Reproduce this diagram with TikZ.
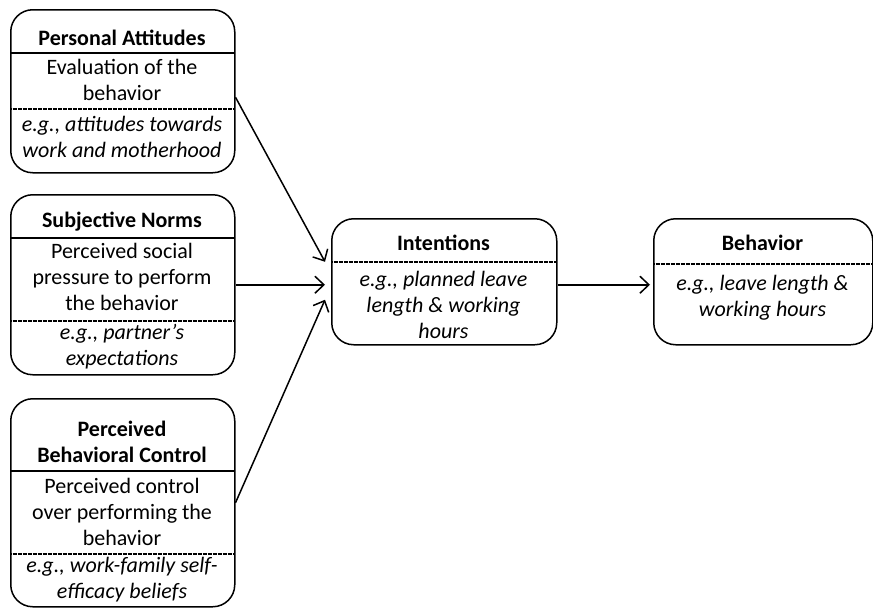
\documentclass[tikz,border=0pt]{standalone}
\usepackage{fontspec}
\setmainfont{Carlito}
\usetikzlibrary{arrows.meta,calc}
\tikzset{
  box/.style={draw, line width=1.5pt, rounded corners=22pt, anchor=north west, inner sep=0pt},
  sep/.style={line width=1.3pt},
  dsep/.style={line width=1.3pt, dash pattern=on 2pt off 0.5pt},
  txt/.style={align=center, inner sep=0pt, font=\fontsize{22}{26}\selectfont},
  ttl/.style={txt, font=\fontsize{22}{26}\selectfont\bfseries},
  itx/.style={txt, font=\fontsize{22}{26}\selectfont\itshape},
  arr/.style={line width=1.5pt, -{Straight Barb[length=9pt,width=17pt,line width=1.5pt]}}
}
\begin{document}
\begin{tikzpicture}[x=1pt,y=-1pt]
\useasboundingbox (0,0) rectangle (873,608);
% Box 1
\node[box, minimum width=224pt, minimum height=163pt] (pa) at (10,9) {};
\draw[sep] (10,53) -- (234,53);
\draw[dsep] (10,109) -- (234,109);
\node[ttl] (pa-t) at (122,38) {Personal Attitudes};
\node[txt] (pa-d) at (122,80) {Evaluation of the\\behavior};
\node[itx] (pa-e) at (122,137) {e.g., attitudes towards\\work and motherhood};
% Box 2
\node[box, minimum width=224pt, minimum height=180pt] (sn) at (10,194) {};
\draw[sep] (10,238) -- (234,238);
\draw[dsep] (10,321) -- (234,321);
\node[ttl] (sn-t) at (122,222) {Subjective Norms};
\node[txt] (sn-d) at (122,277) {Perceived social\\pressure to perform\\the behavior};
\node[itx] (sn-e) at (122,347) {e.g., partner’s\\expectations};
% Box 3
\node[box, minimum width=224pt, minimum height=208pt] (pbc) at (10,398) {};
\draw[sep] (10,471) -- (234,471);
\draw[dsep] (10,554) -- (234,554);
\node[ttl] (pbc-t) at (122,442) {Perceived\\Behavioral Control};
\node[txt] (pbc-d) at (122,512) {Perceived control\\over performing the\\behavior};
\node[itx] (pbc-e) at (122,580) {e.g., work-family self-\\efficacy beliefs};
% Intentions
\node[box, minimum width=225pt, minimum height=126pt] (int) at (331,218) {};
\draw[dsep] (331,262) -- (556,262);
\node[ttl] (int-t) at (443.5,243) {Intentions};
\node[itx] (int-e) at (443.5,305) {e.g., planned leave\\length \& working\\hours};
% Behavior
\node[box, minimum width=219pt, minimum height=126pt] (beh) at (653,218) {};
\draw[dsep] (653,264) -- (872,264);
\node[ttl] (beh-t) at (762.5,243) {Behavior};
\node[itx] (beh-e) at (762.5,298) {e.g., leave length \&\\working hours};
% Arrows
\draw[arr] ([yshift=-6pt]pa.east) -- ([xshift=-6pt,yshift=20pt]int.west);
\draw[arr] (sn.east) -- ([xshift=-6pt,yshift=-3pt]int.west);
\draw[arr] (pbc.east) -- ([xshift=-6pt,yshift=-18pt]int.west);
\draw[arr] ([yshift=-3pt]int.east) -- ([xshift=-3pt,yshift=-3pt]beh.west);
\end{tikzpicture}
\end{document}
